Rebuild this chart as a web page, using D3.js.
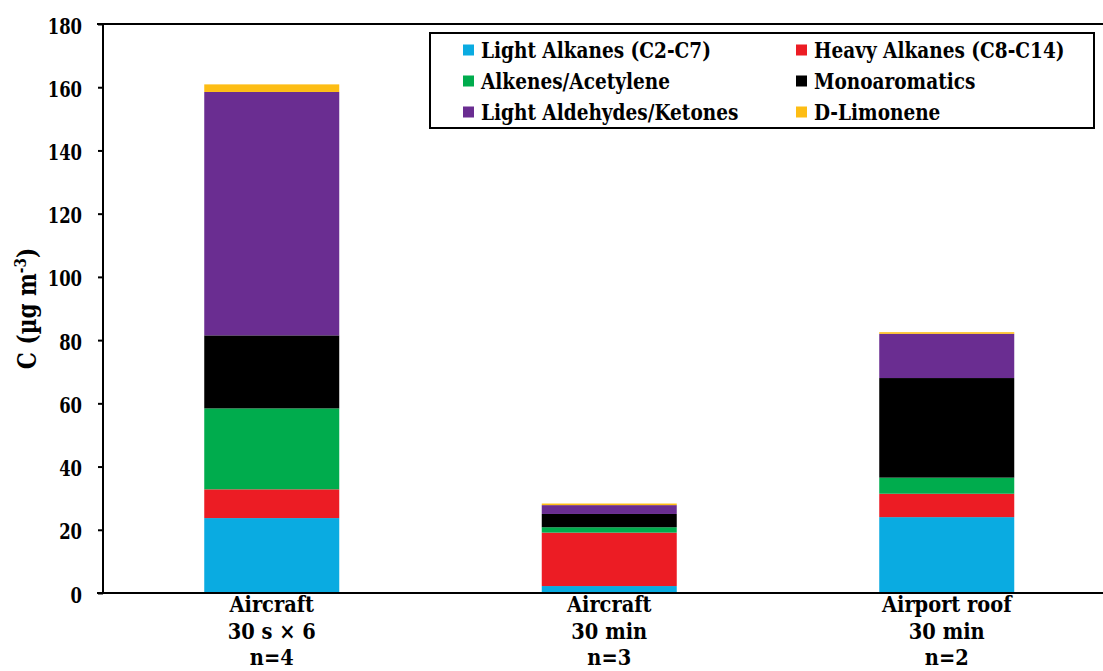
<!DOCTYPE html>
<html>
<head>
<meta charset="utf-8">
<script src="https://cdn.jsdelivr.net/npm/d3@7"></script>
<style>
  html, body { margin: 0; padding: 0; background: #fff; }
  svg { display: block; }
  svg text { font-family: "DejaVu Serif", serif; font-weight: bold; fill: #000; }
</style>
</head>
<body>
<svg id="chart" width="1103" height="671"></svg>
<script>
// Sampling sites / sampling schemes (multi-line labels)
const categories = ["Aircraft|30 s × 6|n=4", "Aircraft|30 min|n=3", "Airport roof|30 min|n=2"];

// VOC groups, bottom to top of each stack
const seriesNames = [
  "Light Alkanes (C2-C7)",
  "Heavy Alkanes (C8-C14)",
  "Alkenes/Acetylene",
  "Monoaromatics",
  "Light Aldehydes/Ketones",
  "D-Limonene"
];
const seriesColors = ["#0AABE1", "#EC1C24", "#00AC4D", "#000000", "#6A2D91", "#FDBD14"];

// Concentrations (µg m-3), one value per category
const lightAlkanes   = [23.7, 2.2, 24.0];
const heavyAlkanes   = [9.1, 16.9, 7.4];
const alkenes        = [25.6, 1.7, 5.1];
const monoaromatics  = [23.1, 4.2, 31.5];
const aldehydes      = [77.0, 2.8, 14.0];
const limonene       = [2.4, 0.5, 0.5];

const yTicks = [0, 20, 40, 60, 80, 100, 120, 140, 160, 180];

const seriesValues = [lightAlkanes, heavyAlkanes, alkenes, monoaromatics, aldehydes, limonene];

const svg = d3.select("#chart");
const plotLeft = 103, plotRight = 1115.5, plotTop = 24, plotBottom = 593;
const FS = 21.8;   // body text size
const FS_TITLE = 25.4;

// Horizontal condensing factors so the bold serif face runs narrow
function measure(str, size) {
  const t = svg.append("text").style("font-size", size + "px").text(str);
  const w = t.node().getComputedTextLength();
  t.remove();
  return w;
}
const fLetters = 230 / measure("Light Alkanes (C2-C7)", FS);
const fDigits = 34.3 / measure("180", FS);

function squeeze(sel, f) {
  sel.each(function() {
    const t = d3.select(this);
    const x0 = +t.attr("x") || 0, y0 = +t.attr("y") || 0;
    t.attr("x", 0).attr("y", 0).attr("transform", `translate(${x0},${y0}) scale(${f},1)`);
  });
}

const x = d3.scaleBand().domain(categories).range([plotLeft, plotRight]).paddingInner(0.6).paddingOuter(0.3);
const y = d3.scaleLinear().domain([0, 180]).range([plotBottom, plotTop]);

// Build stacked table
const table = categories.map((c, i) => {
  const row = { cat: c };
  seriesNames.forEach((s, j) => { row[s] = seriesValues[j][i]; });
  return row;
});
const stacked = d3.stack().keys(seriesNames)(table);

svg.append("g").selectAll("g")
  .data(stacked)
  .join("g")
  .attr("fill", (d, i) => seriesColors[i])
  .selectAll("rect")
  .data(d => d)
  .join("rect")
  .attr("x", d => x(d.data.cat))
  .attr("width", x.bandwidth())
  .attr("y", d => y(d[1]))
  .attr("height", d => y(d[0]) - y(d[1]));

// Y axis
const yAxis = svg.append("g")
  .attr("transform", `translate(${plotLeft},0)`)
  .call(d3.axisLeft(y).tickValues(yTicks).tickSize(5).tickPadding(16).tickFormat(d3.format("d")));
yAxis.attr("font-family", null).attr("font-size", null);
yAxis.select(".domain").attr("stroke", "#000").attr("stroke-width", 2).attr("d", `M0,${plotTop}V${plotBottom}`);
yAxis.selectAll(".tick line").attr("stroke", "#000").attr("stroke-width", 2);
const tickText = yAxis.selectAll(".tick text").style("font-size", FS + "px").attr("dy", 9);
squeeze(tickText, fDigits);

// X baseline (extends left to meet the zero tick)
svg.append("line")
  .attr("x1", plotLeft - 6).attr("x2", 1103)
  .attr("y1", y(0)).attr("y2", y(0))
  .attr("stroke", "#000").attr("stroke-width", 2);

// Top frame line
svg.append("line")
  .attr("x1", plotLeft - 6).attr("x2", 1103)
  .attr("y1", y(180)).attr("y2", y(180))
  .attr("stroke", "#000").attr("stroke-width", 2);

// Category labels, one text per line
const lineY = [612, 639, 665];
const catLines = categories.flatMap(c => c.split("|").map((p, i) => ({ cat: c, text: p, line: i })));
const xl = svg.append("g").selectAll("text")
  .data(catLines)
  .join("text")
  .attr("text-anchor", "middle")
  .style("font-size", FS + "px")
  .attr("x", d => x(d.cat) + x.bandwidth() / 2)
  .attr("y", d => lineY[d.line])
  .text(d => d.text);
squeeze(xl, fLetters * 1.05);

// Y axis title
const yt = svg.append("text")
  .attr("text-anchor", "middle")
  .style("font-size", FS_TITLE + "px");
yt.append("tspan").text("C (µg m");
yt.append("tspan").attr("dy", -10).style("font-size", "16px").text("-3");
yt.append("tspan").attr("dy", 10).text(")");
yt.attr("transform", `translate(36,${(plotTop + plotBottom) / 2}) rotate(-90) scale(${fLetters},1)`);

// Legend
const lg = svg.append("g");
lg.append("rect")
  .attr("x", 430).attr("y", 33).attr("width", 664).attr("height", 95)
  .attr("fill", "#fff").attr("stroke", "#000").attr("stroke-width", 2);
const colX = [463, 796];
const rowY = [50, 81, 112];
seriesNames.forEach((s, i) => {
  const cx = colX[i % 2], cy = rowY[Math.floor(i / 2)];
  lg.append("rect")
    .attr("x", cx).attr("y", cy - 5.5).attr("width", 11).attr("height", 11)
    .attr("fill", seriesColors[i]);
  const t = lg.append("text")
    .attr("x", cx + 18).attr("y", cy + 8)
    .style("font-size", FS + "px")
    .text(s);
  squeeze(t, fLetters);
});
</script>
</body>
</html>
